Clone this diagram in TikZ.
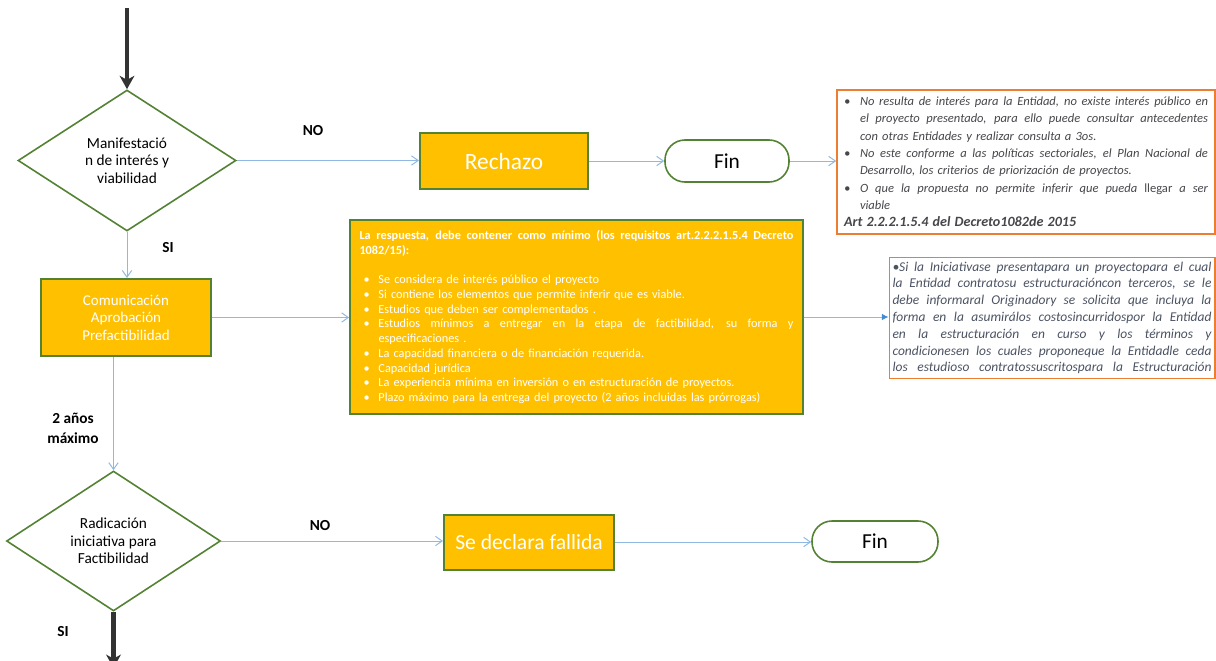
\documentclass[tikz,border=0pt]{standalone}
\usepackage{fontspec}
\setmainfont{Carlito}
\usetikzlibrary{shapes.geometric,arrows.meta}

\definecolor{ambar}{RGB}{255,192,0}
\definecolor{verde}{RGB}{84,130,53}
\definecolor{celeste}{RGB}{143,185,227}
\definecolor{azul}{RGB}{68,140,210}
\definecolor{naranja}{RGB}{237,125,49}
\definecolor{grisnota}{RGB}{70,70,75}
\definecolor{grisazul}{RGB}{75,82,98}

\newcommand{\just}[2]{\makebox[#1][s]{\spaceskip=0pt\xspaceskip=0pt #2}}
\newcommand{\vin}[1]{\makebox[#1][l]{\textbullet}}

\tikzset{
  decision/.style={diamond, draw=verde, line width=1.2pt, inner sep=0pt, align=center, font=\fontsize{11.5}{13.1}\selectfont},
  proceso/.style={rectangle, draw=verde, fill=ambar, line width=1.5pt, text=white, align=center},
  terminal/.style={rectangle, rounded corners=15pt, draw=verde, line width=1.2pt, font=\fontsize{16}{18}\selectfont},
  nota/.style={rectangle, draw=naranja, line width=1.2pt, align=left},
  flujo/.style={draw=celeste, line width=0.75pt, -{Straight Barb[length=5pt,width=7pt]}},
  enlace/.style={draw=celeste, line width=0.75pt, -{Latex[length=5pt,width=5pt,color=azul]}},
  avance/.style={draw=black!80, line width=3.5pt, -{Stealth[length=10pt,width=11pt,inset=3pt]}},
  rotulo/.style={font=\fontsize{11.5}{15}\selectfont\bfseries, align=center}
}

\begin{document}
\begin{tikzpicture}[x=0.75pt,y=0.75pt,yscale=-1,xscale=1]
\useasboundingbox (0,0) rectangle (1216,660);

%Shape: Diamond
\node [decision, minimum width=163.5pt, minimum height=105.75pt] (d1) at (127,160.5) {Manifestació\\n de interés y\\viabilidad};
%Shape: Diamond
\node [decision, minimum width=160.5pt, minimum height=105pt] (d2) at (113.5,541) {Radicación\\iniciativa para\\Factibilidad};

%Shape: Rectangle
\node [proceso, minimum width=126pt, minimum height=42pt, font=\fontsize{17.5}{18}\selectfont] (rech) at (504,161) {Rechazo};
%Shape: Rectangle
\node [proceso, minimum width=127.5pt, minimum height=57.75pt, font=\fontsize{11.25}{13.1}\selectfont] (com) at (126,317.5) {Comunicación\\Aprobación\\Prefactibilidad};
%Shape: Rectangle
\node [proceso, minimum width=127.5pt, minimum height=41.25pt, font=\fontsize{16.2}{18}\selectfont] (fall) at (529,542) {Se declara fallida};

%Rounded Rect
\node [terminal, minimum width=93pt, minimum height=31.5pt] (fin1) at (727,161) {Fin};
%Rounded Rect
\node [terminal, minimum width=94.5pt, minimum height=30.75pt] (fin2) at (875,541.5) {Fin};

%Shape: Rectangle
\node [proceso, text width=325.5pt, inner xsep=7pt, minimum height=145.5pt, align=left, font=\fontsize{9.2}{11.06}\selectfont] (req) at (576.5,317) {%
\textbf{\just{325.5pt}{La respuesta, debe contener como mínimo (los requisitos art.2.2.2.1.5.4 Decreto}}\\
\textbf{1082/15):}\\
~\\
\hspace*{3pt}\vin{11.25pt}Se considera de interés público el proyecto\\
\hspace*{3pt}\vin{11.25pt}Si contiene los elementos que permite inferir que es viable.\\
\hspace*{3pt}\vin{11.25pt}Estudios que deben ser complementados .\\
\hspace*{3pt}\vin{11.25pt}\just{311.25pt}{Estudios mínimos a entregar en la etapa de factibilidad, su forma y}\\
\hspace*{14.25pt}especificaciones .\\
\hspace*{3pt}\vin{11.25pt}La capacidad financiera o de financiación requerida.\\
\hspace*{3pt}\vin{11.25pt}Capacidad jurídica\\
\hspace*{3pt}\vin{11.25pt}La experiencia mínima en inversión o en estructuración de proyectos.\\
\hspace*{3pt}\vin{11.25pt}Plazo máximo para la entrega del proyecto (2 años incluidas las prórrogas)};

% Text Node
\node [nota, text=grisnota, text width=273pt, inner xsep=5.25pt, minimum height=108pt, font=\fontsize{9.4}{13}\selectfont\itshape] (nota1) at (1026,162) {%
\vin{12pt}\just{261pt}{No resulta de interés para la Entidad, no existe interés público en}\\
\hspace*{12pt}\just{261pt}{el proyecto presentado, para ello puede consultar antecedentes}\\
\hspace*{12pt}con otras Entidades y realizar consulta a 3os.\\
\vin{12pt}\just{261pt}{No este conforme a las políticas sectoriales, el Plan Nacional de}\\
\hspace*{12pt}Desarrollo, los criterios de priorización de proyectos.\\
\vin{12pt}\just{261pt}{O que la propuesta no permite inferir que pueda \textup{llegar} a ser}\\
\hspace*{12pt}viable\\
{\fontsize{10.6}{13}\selectfont\bfseries Art 2.2.2.1.5.4 del Decreto1082de 2015}};

% Text Node
\node [nota, text=grisazul, text width=239.25pt, inner xsep=2.4pt, minimum height=88.5pt, font=\fontsize{10.1}{12.6}\selectfont\itshape] (nota2) at (1052,318) {%
\just{239.25pt}{\textbullet Si la Iniciativase presentapara un proyectopara el cual}\\
\just{239.25pt}{la Entidad contratosu estructuracióncon terceros, se le}\\
\just{239.25pt}{debe informaral Originadory se solicita que incluya la}\\
\just{239.25pt}{forma en la asumirálos costosincurridospor la Entidad}\\
\just{239.25pt}{en la estructuración en curso y los términos y}\\
\just{239.25pt}{condicionesen los cuales proponeque la Entidadle ceda}\\
\just{239.25pt}{los estudioso contratossuscritospara la Estructuración}};

% Text Node
\node [rotulo] (no1) at (313,131) {NO};
\node [rotulo] (si1) at (168,248) {SI};
\node [rotulo] (plazo) at (73,428) {2 años\\máximo};
\node [rotulo] (no2) at (320,526) {NO};
\node [rotulo] (si2) at (63,632) {SI};

\coordinate (ini) at (127,8);
\coordinate (sal) at (113.5,668);

%Straight Lines
\draw [avance] (ini) -- (d1.north);
\draw [flujo] (d1.east) -- (d1.east -| rech.west);
\draw [flujo] (rech.east) -- (fin1.west);
\draw [flujo] (fin1.east) -- (fin1.east -| nota1.west);
\draw [flujo] (d1.south) -- (d1.south |- com.north);
\draw [flujo] (com.east) -- (com.east -| req.west);
\draw [enlace] (req.east) -- (req.east -| nota2.west);
\draw [flujo] (d2.north |- com.south) -- (d2.north);
\draw [flujo] (d2.east) -- (d2.east -| fall.west);
\draw [flujo] (fall.east) -- (fall.east -| fin2.west);
\draw [avance] (d2.south) -- (sal);

\end{tikzpicture}
\end{document}
